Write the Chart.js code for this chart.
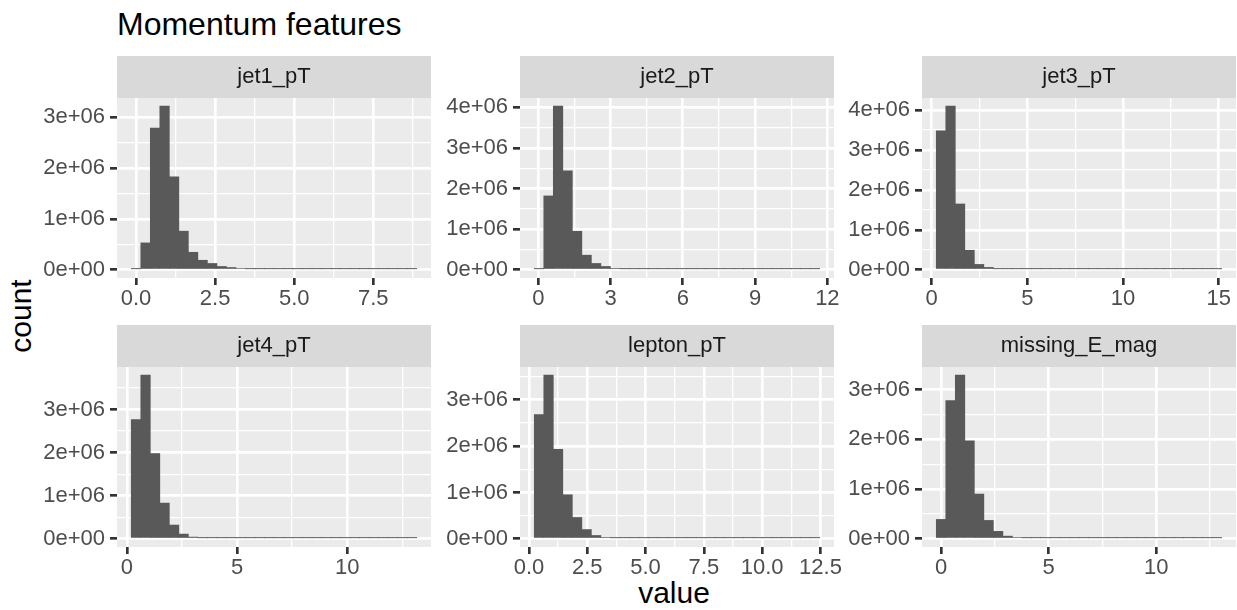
<!DOCTYPE html>
<html>
<head>
<meta charset="utf-8">
<script src="https://cdn.jsdelivr.net/npm/chart.js@4.4.0/dist/chart.umd.min.js"></script>
<style>
  body { margin: 0; width: 1237px; height: 610px; background: #fff; position: relative; overflow: hidden;
         font-family: "Liberation Sans", Arial, sans-serif; }
  canvas.panel { position: absolute; }
  #title { position: absolute; left: 117px; top: 8px; font-size: 32px; line-height: 1; color: #000; white-space: nowrap; }
  #xlab { position: absolute; left: 674px; top: 578px; font-size: 30px; line-height: 1; color: #000; transform: translateX(-50%); }
  #ylab { position: absolute; left: 21px; top: 316px; font-size: 30px; line-height: 1; color: #000;
          transform: translate(-50%, -50%) rotate(-90deg); }
</style>
</head>
<body>
<div id="title">Momentum features</div>
<div id="ylab">count</div>
<div id="xlab">value</div>
<canvas id="p0" class="panel"></canvas>
<canvas id="p1" class="panel"></canvas>
<canvas id="p2" class="panel"></canvas>
<canvas id="p3" class="panel"></canvas>
<canvas id="p4" class="panel"></canvas>
<canvas id="p5" class="panel"></canvas>
<script>
// facet names
const panelNames = ['jet1_pT', 'jet2_pT', 'jet3_pT', 'jet4_pT', 'lepton_pT', 'missing_E_mag'];

// histogram bins (30 bins per facet): left edge of first bin and bin width
const binStarts = [-0.149, -0.167, 0.245, 0.196, 0.228, -0.22];
const binWidths = [0.3007, 0.395, 0.497, 0.432, 0.408, 0.442];

// counts per bin
const jet1Counts = [9000, 530000, 2790000, 3220000, 1830000, 760000, 345000, 188000, 125000, 66000, 45000, 26000, 15000, 9000, 5500, 3500, 2200, 1400, 900, 600, 400, 260, 170, 110, 70, 45, 30, 20, 12, 5];
const jet2Counts = [6000, 1820000, 4030000, 2440000, 950000, 360000, 157000, 83000, 35000, 20000, 11000, 6000, 3500, 2000, 1200, 700, 450, 300, 200, 130, 85, 55, 35, 25, 15, 10, 7, 5, 3, 2];
const jet3Counts = [3480000, 4100000, 1650000, 490000, 135000, 60000, 25000, 10000, 5000, 2500, 1300, 700, 400, 250, 150, 90, 60, 40, 25, 18, 12, 8, 6, 4, 3, 2, 2, 1, 1, 1];
const jet4Counts = [2770000, 3800000, 1980000, 830000, 320000, 110000, 40000, 15000, 6000, 2500, 1200, 600, 300, 180, 100, 60, 40, 25, 15, 10, 7, 5, 3, 2, 2, 1, 1, 1, 1, 1];
const leptonCounts = [2680000, 3530000, 1930000, 950000, 460000, 200000, 72000, 30000, 12000, 6000, 3000, 1500, 800, 450, 250, 150, 90, 55, 35, 22, 14, 9, 6, 4, 3, 2, 1, 1, 1, 1];
const missingCounts = [390000, 2780000, 3290000, 1970000, 900000, 370000, 150000, 54000, 27000, 12000, 5500, 2600, 1300, 700, 400, 230, 140, 85, 50, 30, 20, 13, 8, 5, 3, 2, 1, 1, 1, 1];
const allCounts = [jet1Counts, jet2Counts, jet3Counts, jet4Counts, leptonCounts, missingCounts];

// tick values and labels
const xTickValues = [[0, 2.5, 5, 7.5], [0, 3, 6, 9, 12], [0, 5, 10, 15], [0, 5, 10], [0, 2.5, 5, 7.5, 10, 12.5], [0, 5, 10]];
const xTickLabels = [['0.0', '2.5', '5.0', '7.5'], ['0', '3', '6', '9', '12'], ['0', '5', '10', '15'], ['0', '5', '10'],
                     ['0.0', '2.5', '5.0', '7.5', '10.0', '12.5'], ['0', '5', '10']];
const yTickValues = [[0, 1e6, 2e6, 3e6], [0, 1e6, 2e6, 3e6, 4e6], [0, 1e6, 2e6, 3e6, 4e6], [0, 1e6, 2e6, 3e6], [0, 1e6, 2e6, 3e6], [0, 1e6, 2e6, 3e6]];
const yTickLabels = [['0e+00', '1e+06', '2e+06', '3e+06'], ['0e+00', '1e+06', '2e+06', '3e+06', '4e+06'], ['0e+00', '1e+06', '2e+06', '3e+06', '4e+06'],
                     ['0e+00', '1e+06', '2e+06', '3e+06'], ['0e+00', '1e+06', '2e+06', '3e+06'], ['0e+00', '1e+06', '2e+06', '3e+06']];

// page layout
const colLeft = [117, 520, 922];
const rowStripTop = [56, 325];
const stripH = 42, panelW = 314, panelH = 180;
const axisW = 100, axisH = 45, extraR = 30;

Chart.defaults.font.family = '"Liberation Sans", Arial, sans-serif';
Chart.defaults.animation = false;

// grey panel background + facet strip
const panelDeco = {
    id: 'panelDeco',
    beforeDraw(chart, args, opts) {
        const ctx = chart.ctx;
        const a = chart.chartArea;
        ctx.save();
        ctx.fillStyle = '#EBEBEB';
        ctx.fillRect(a.left, a.top, a.right - a.left, a.bottom - a.top);
        ctx.fillStyle = '#D9D9D9';
        ctx.fillRect(a.left, a.top - stripH, a.right - a.left, stripH);
        ctx.fillStyle = '#1A1A1A';
        ctx.font = '22px "Liberation Sans", Arial, sans-serif';
        ctx.textAlign = 'center';
        ctx.textBaseline = 'middle';
        ctx.fillText(opts.label, (a.left + a.right) / 2, a.top - stripH / 2);
        ctx.restore();
    }
};

// majors with labels, minors halfway between (ggplot style)
function makeTicks(values, labels, min, max) {
    let step = values[1] - values[0];
    let out = [];
    let first = values[0] - step / 2;
    if (first >= min) out.push({ value: first, minor: true, txt: '' });
    values.forEach((v, i) => {
        if (v >= min && v <= max) out.push({ value: v, minor: false, txt: labels[i] });
        let m = v + step / 2;
        if (m >= min && m <= max) out.push({ value: m, minor: true, txt: '' });
    });
    return out;
}

const gridOpts = {
    offset: false,
    color: '#FFFFFF',
    lineWidth: c => (c.tick && c.tick.minor) ? 1.33 : 2.67,
    tickColor: c => (c.tick && c.tick.minor) ? 'rgba(0,0,0,0)' : '#333333',
    tickWidth: 2.67,
    tickLength: 7
};

for (let i = 0; i < 6; i++) {
    let counts = allCounts[i];
    let start = binStarts[i], w = binWidths[i];
    let points = counts.map((c, k) => ({ x: start + w * (k + 0.5), y: c }));

    let span = w * counts.length;
    let xMin = start - 0.05 * span, xMax = start + span + 0.05 * span;
    let top = Math.max(...counts);
    let yMin = -0.05 * top, yMax = 1.05 * top;

    let xt = makeTicks(xTickValues[i], xTickLabels[i], xMin, xMax);
    let yt = makeTicks(yTickValues[i], yTickLabels[i], yMin, yMax);

    let canvas = document.getElementById('p' + i);
    let col = i % 3, row = Math.floor(i / 3);
    canvas.width = axisW + panelW + extraR;
    canvas.height = stripH + panelH + axisH;
    canvas.style.left = (colLeft[col] - axisW) + 'px';
    canvas.style.top = rowStripTop[row] + 'px';

    new Chart(canvas, {
        type: 'bar',
        data: {
            datasets: [{
                data: points,
                backgroundColor: '#595959',
                borderWidth: 0,
                barPercentage: 1,
                categoryPercentage: 1,
                minBarLength: 1
            }]
        },
        options: {
            responsive: false,
            layout: { padding: { top: stripH, right: extraR, left: 0, bottom: 0 } },
            plugins: {
                legend: { display: false },
                tooltip: { enabled: false },
                panelDeco: { label: panelNames[i] }
            },
            scales: {
                x: {
                    type: 'linear',
                    min: xMin, max: xMax,
                    bounds: 'data',
                    offset: false,
                    border: { display: false },
                    grid: gridOpts,
                    afterBuildTicks: s => { s.ticks = xt; },
                    afterFit: s => { s.height = axisH; s.paddingLeft = 0; s.paddingRight = 0; },
                    ticks: {
                        autoSkip: false, maxRotation: 0, minRotation: 0,
                        padding: 1,
                        color: '#4D4D4D',
                        font: { size: 22 },
                        callback: (v, idx, ticks) => ticks[idx].txt
                    }
                },
                y: {
                    type: 'linear',
                    min: yMin, max: yMax,
                    bounds: 'data',
                    border: { display: false },
                    grid: gridOpts,
                    afterBuildTicks: s => { s.ticks = yt; },
                    afterFit: s => { s.width = axisW; s.paddingTop = 0; s.paddingBottom = 0; },
                    ticks: {
                        autoSkip: false,
                        padding: 5,
                        color: '#4D4D4D',
                        font: { size: 22 },
                        callback: (v, idx, ticks) => ticks[idx].txt
                    }
                }
            }
        },
        plugins: [panelDeco]
    });
}
</script>
</body>
</html>
